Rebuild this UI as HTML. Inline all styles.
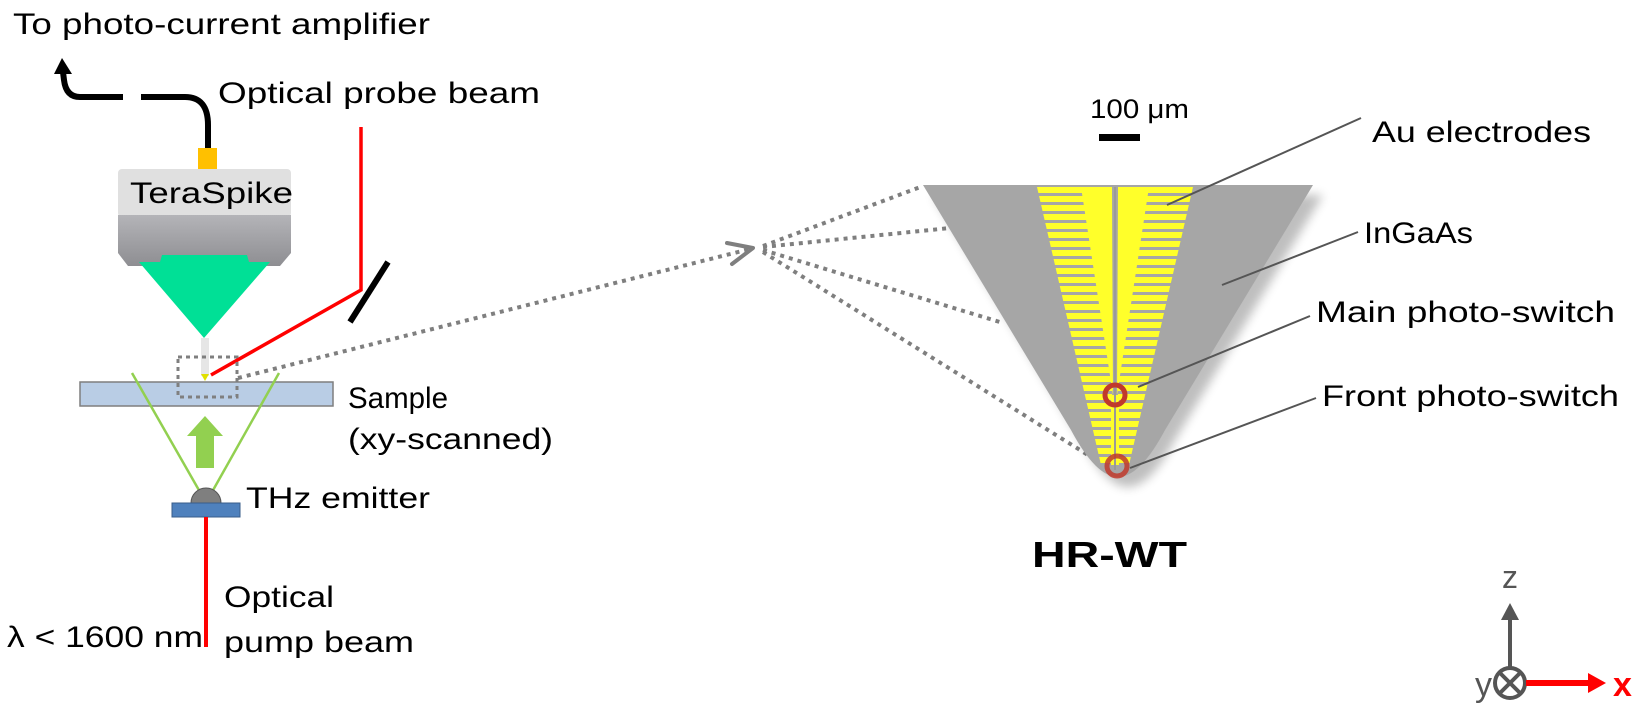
<!DOCTYPE html>
<html><head><meta charset="utf-8"><style>
html,body{margin:0;padding:0;background:#fff}
svg{display:block}
text{font-family:"Liberation Sans",sans-serif;fill:#000}
</style></head><body>
<svg width="1646" height="722" viewBox="0 0 1646 722" xmlns="http://www.w3.org/2000/svg">
<defs>
<pattern id="st" patternUnits="userSpaceOnUse" x="0" y="187" width="20" height="9">
<rect x="0" y="0" width="20" height="6" fill="#ffff2a"/>
</pattern>
<filter id="sh" x="-10%" y="-10%" width="120%" height="120%"><feGaussianBlur stdDeviation="5"/></filter>
<linearGradient id="bg" x1="0" y1="0" x2="0" y2="1"><stop offset="0" stop-color="#b4b4b8"/><stop offset="1" stop-color="#8e8e92"/></linearGradient>
</defs>

<text x="13" y="34" font-size="30" textLength="417" lengthAdjust="spacingAndGlyphs">To photo-current amplifier</text>
<!-- cable -->
<path d="M123,97 L80,97 Q66,97 64,80 L63,72" fill="none" stroke="#000" stroke-width="6"/>
<polygon points="54,74 72,74 62,58" fill="#000"/>
<path d="M141,97 L185,97 Q208,97 208,125 L208,150" fill="none" stroke="#000" stroke-width="6"/>
<rect x="198" y="148" width="19" height="21" fill="#ffc000"/>
<!-- TeraSpike -->
<rect x="118" y="169" width="173" height="48" rx="4" fill="#e0e0e0"/>
<text x="130" y="203" font-size="30" textLength="163" lengthAdjust="spacingAndGlyphs">TeraSpike</text>
<polygon points="118,215 291,215 291,253 280,266 128,266 118,253" fill="url(#bg)"/>
<polygon points="160,262 162,255 247,255 249,262 270,262 204,338 139,262" fill="#00e096"/>
<rect x="201" y="338" width="8" height="38" fill="#e6e6e6"/>
<polygon points="201,374 209,374 205,381" fill="#e0e000"/>
<!-- probe beam -->
<text x="218" y="103" font-size="30" textLength="322" lengthAdjust="spacingAndGlyphs">Optical  probe beam</text>
<polyline points="361,127 361,290 211,375" fill="none" stroke="#f00" stroke-width="3.5"/>
<line x1="350" y1="322" x2="388" y2="262" stroke="#000" stroke-width="6"/>
<!-- sample -->
<rect x="80" y="382" width="253" height="24" fill="#b9cde5" stroke="#7f7f7f" stroke-width="1.5"/>
<rect x="178" y="357" width="59" height="40" fill="none" stroke="#7f7f7f" stroke-width="3" stroke-dasharray="4,4"/>
<text x="348" y="408" font-size="30" textLength="100" lengthAdjust="spacingAndGlyphs">Sample</text>
<text x="348" y="449" font-size="30" textLength="205" lengthAdjust="spacingAndGlyphs">(xy-scanned)</text>
<!-- green cone -->
<line x1="132" y1="373" x2="200" y2="492" stroke="#92d050" stroke-width="2.5"/>
<line x1="279" y1="373" x2="212" y2="492" stroke="#92d050" stroke-width="2.5"/>
<polygon points="196,468 214,468 214,436 223,436 205,416 187,436 196,436" fill="#92d050"/>
<!-- emitter -->
<path d="M191,503 A15,15 0 0 1 221,503 Z" fill="#7f7f7f" stroke="#555" stroke-width="1"/>
<rect x="172" y="503" width="68" height="14" fill="#4f81bd" stroke="#385d8a" stroke-width="1"/>
<text x="246" y="508" font-size="30" textLength="184" lengthAdjust="spacingAndGlyphs">THz emitter</text>
<line x1="206" y1="517" x2="206" y2="647" stroke="#f00" stroke-width="4"/>
<text x="224" y="607" font-size="30" textLength="110" lengthAdjust="spacingAndGlyphs">Optical</text>
<text x="224" y="652" font-size="30" textLength="190" lengthAdjust="spacingAndGlyphs">pump beam</text>
<text x="7" y="647" font-size="30" textLength="196" lengthAdjust="spacingAndGlyphs">λ &lt; 1600 nm</text>
<!-- dotted connectors -->
<g stroke="#7f7f7f" stroke-width="4" stroke-dasharray="4,5" fill="none">
<line x1="238" y1="378" x2="750" y2="249"/>
<line x1="763" y1="246" x2="923" y2="186"/>
<line x1="763" y1="247" x2="950" y2="228"/>
<line x1="763" y1="250" x2="1003" y2="323"/>
<line x1="763" y1="252" x2="1112" y2="470"/>
</g>
<polyline points="727,243 753,248 732,264" fill="none" stroke="#7f7f7f" stroke-width="4" stroke-linecap="round" stroke-linejoin="round"/>
<!-- gray tip -->
<path d="M933,195 L1323,195 L1175,440 Q1150,487 1128,487 Q1106,487 1081,440 Z" fill="#000" opacity="0.25" filter="url(#sh)"/>
<path d="M923,185 L1313,185 L1165,430 Q1140,477 1118,477 Q1096,477 1071,430 Z" fill="#a6a6a6"/>
<!-- combs -->
<polygon points="1037,187 1112,187 1112,465 1101,465" fill="url(#st)"/>
<polygon points="1193,187 1118,187 1118,465 1129,465" fill="url(#st)"/>
<polygon points="1081,187 1112,187 1113,395" fill="#ffff2a"/>
<polygon points="1149,187 1118,187 1117,395" fill="#ffff2a"/>
<rect x="1111" y="395" width="8" height="70" fill="#ffff2a"/>
<line x1="1115" y1="187" x2="1115" y2="470" stroke="#9a9a9a" stroke-width="2"/>
<circle cx="1115" cy="395" r="10" fill="none" stroke="#c0392b" stroke-width="5"/>
<circle cx="1117" cy="466" r="10" fill="none" stroke="#c0392b" stroke-width="5" opacity="0.85"/>
<!-- scale bar -->
<text x="1090" y="118" font-size="27" textLength="99" lengthAdjust="spacingAndGlyphs">100 μm</text>
<rect x="1099" y="134" width="41" height="7" fill="#000"/>
<!-- labels -->
<g stroke="#555" stroke-width="2">
<line x1="1167" y1="205" x2="1361" y2="118"/>
<line x1="1222" y1="285" x2="1358" y2="232"/>
<line x1="1138" y1="387" x2="1310" y2="316"/>
<line x1="1130" y1="468" x2="1316" y2="398"/>
</g>
<text x="1372" y="142" font-size="30" textLength="219" lengthAdjust="spacingAndGlyphs">Au electrodes</text>
<text x="1364" y="243" font-size="30" textLength="109" lengthAdjust="spacingAndGlyphs">InGaAs</text>
<text x="1316" y="322" font-size="30" textLength="299" lengthAdjust="spacingAndGlyphs">Main photo-switch</text>
<text x="1322" y="406" font-size="30" textLength="297" lengthAdjust="spacingAndGlyphs">Front photo-switch</text>
<text x="1032" y="567" font-size="36" font-weight="bold" textLength="155" lengthAdjust="spacingAndGlyphs">HR-WT</text>
<!-- axes -->
<text x="1510" y="588" font-size="32" text-anchor="middle" style="fill:#555">z</text>
<line x1="1510" y1="668" x2="1510" y2="618" stroke="#555" stroke-width="4"/>
<polygon points="1501,620 1519,620 1510,603" fill="#555"/>
<circle cx="1510" cy="683" r="15" fill="#fff" stroke="#555" stroke-width="4"/>
<line x1="1500" y1="673" x2="1520" y2="693" stroke="#555" stroke-width="4"/>
<line x1="1520" y1="673" x2="1500" y2="693" stroke="#555" stroke-width="4"/>
<text x="1492" y="696" font-size="34" text-anchor="end" style="fill:#555">y</text>
<line x1="1526" y1="683" x2="1590" y2="683" stroke="#f00" stroke-width="6"/>
<polygon points="1588,673 1606,683 1588,693" fill="#f00"/>
<text x="1613" y="696" font-size="34" font-weight="bold" style="fill:#f00">x</text>
</svg>
</body></html>
